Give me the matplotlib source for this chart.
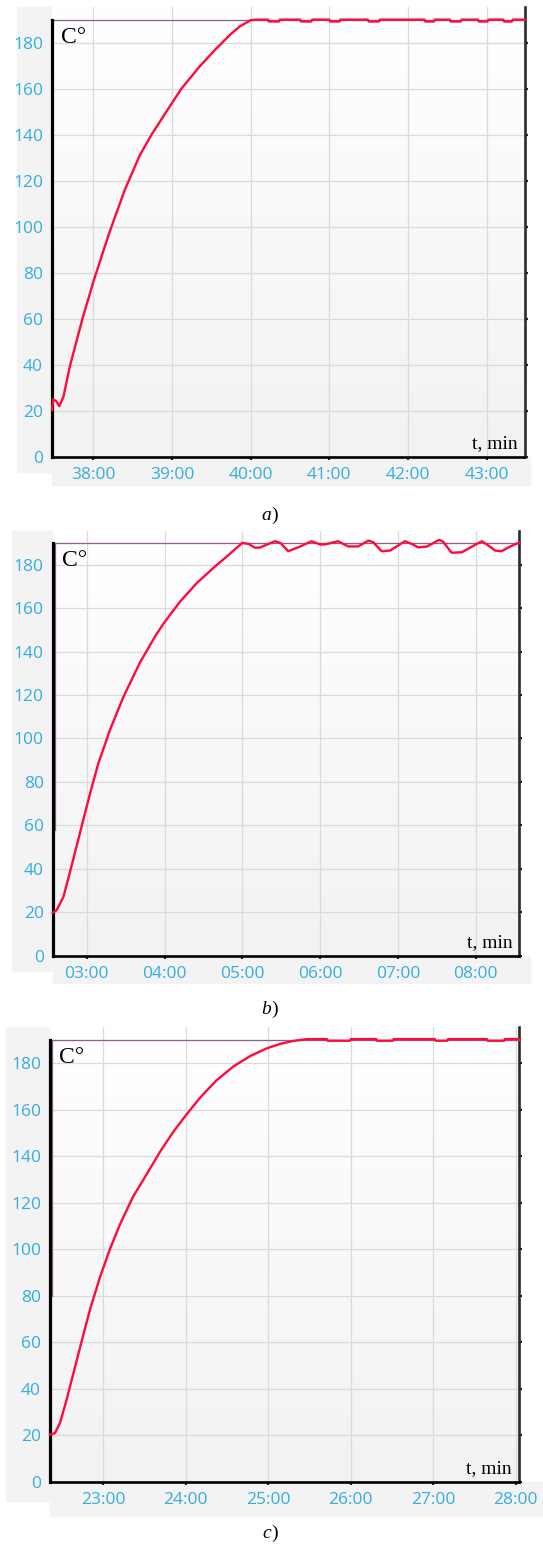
import numpy as np
import matplotlib.pyplot as plt
from matplotlib.patches import Rectangle
from matplotlib.colors import LinearSegmentedColormap

W, H, DPI = 543, 1544, 100

# ---- data (time in minutes, temperature in C) ----
a_time = [37.475, 37.49, 37.535, 37.568, 37.62, 37.70, 37.79, 37.87, 37.94, 38.0,
          38.2, 38.4, 38.59, 38.74, 38.9, 39.12, 39.35, 39.55, 39.74, 39.86, 40.0, 40.08,
          40.22, 40.23, 40.36, 40.37, 40.63, 40.64, 40.77, 40.78, 41.0, 41.01,
          41.13, 41.14, 41.49, 41.5, 41.63, 41.64, 42.21, 42.22, 42.33, 42.34,
          42.53, 42.54, 42.67, 42.68, 42.89, 42.9, 43.01, 43.02, 43.21, 43.22,
          43.32, 43.33, 43.48]
a_temp = [20.3, 25.0, 23.9, 22.0, 26.0, 39.0, 50.7, 60.9, 69.0, 76.0,
          97.0, 116.0, 131.0, 140.0, 148.5, 160.0, 169.6, 177.0, 183.5, 187.0, 189.8, 190.0,
          190.0, 189.2, 189.2, 190.0, 190.0, 189.2, 189.2, 190.0, 190.0, 189.2,
          189.2, 190.0, 190.0, 189.2, 189.2, 190.0, 190.0, 189.2, 189.2, 190.0,
          190.0, 189.2, 189.2, 190.0, 190.0, 189.2, 189.2, 190.0, 190.0, 189.2,
          189.2, 190.0, 190.0]

b_time = [2.563, 2.614, 2.70, 2.785, 2.871, 2.956, 3.042, 3.149, 3.30, 3.47, 3.685,
          3.90, 4.0, 4.2, 4.414, 4.628, 4.84, 5.0, 5.077, 5.163, 5.23, 5.30, 5.42,
          5.49, 5.59, 5.74, 5.89, 6.0, 6.06, 6.23, 6.36, 6.49, 6.62, 6.68, 6.79,
          6.90, 7.09, 7.18, 7.26, 7.37, 7.53, 7.58, 7.69, 7.82, 7.95, 8.08, 8.14,
          8.25, 8.33, 8.44, 8.56]
b_temp = [19.8, 21.0, 27.0, 38.5, 50.5, 62.5, 74.5, 88.5, 104.0, 119.0, 135.0,
          148.2, 153.5, 163.0, 171.5, 178.5, 185.0, 190.0, 189.6, 187.8, 187.9, 189.0, 190.8,
          190.0, 186.2, 188.3, 190.8, 189.3, 189.3, 190.8, 188.4, 188.4, 191.1, 190.4, 186.2,
          186.5, 190.8, 189.5, 188.0, 188.3, 191.4, 190.6, 185.5, 185.7, 188.3, 190.8, 189.4,
          186.5, 186.2, 188.3, 190.2]

c_time = [22.354, 22.415, 22.475, 22.556, 22.636, 22.738, 22.84, 22.96, 23.08, 23.20,
          23.36, 23.53, 23.69, 23.85, 24.0, 24.17, 24.37, 24.58, 24.78, 24.98, 25.15,
          25.30, 25.47, 25.71, 25.72, 25.99, 26.0, 26.31, 26.32, 26.51, 26.52,
          27.02, 27.03, 27.17, 27.18, 27.65, 27.66, 27.86, 27.87, 28.04]
c_temp = [20.4, 21.0, 25.4, 35.4, 46.5, 60.5, 74.2, 88.0, 100.0, 110.5,
          122.5, 132.5, 142.0, 150.5, 157.5, 165.0, 172.5, 178.6, 183.0, 186.3, 188.3,
          189.5, 190.3, 190.3, 189.6, 189.6, 190.3, 190.3, 189.6, 189.6, 190.3,
          190.3, 189.6, 189.6, 190.3, 190.3, 189.6, 189.6, 190.3, 190.3]

setpoint = 190
sp_low = [190, 58, 80]          # where the setpoint trace starts on the left edge
x_ticks = [[38, 39, 40, 41, 42, 43], [3, 4, 5, 6, 7, 8], [23, 24, 25, 26, 27, 28]]
x_labels = [["38:00", "39:00", "40:00", "41:00", "42:00", "43:00"],
            ["03:00", "04:00", "05:00", "06:00", "07:00", "08:00"],
            ["23:00", "24:00", "25:00", "26:00", "27:00", "28:00"]]
y_ticks = [0, 20, 40, 60, 80, 100, 120, 140, 160, 180]
captions = ["a", "b", "c"]

# ---- layout in pixels: left, right, top, bottom of the plot area ----
boxes = [(52, 524.5, 7, 456.7), (52.7, 519.3, 531, 955.7), (50, 519, 1027, 1482)]
strips = [(17, 485, 530), (12, 983, 530), (6, 1516, 543)]
xlims = [(37.475, 43.48), (2.563, 8.56), (22.354, 28.04)]
caption_y = [515, 1009, 1533]

RED = '#ff0a3a'
PURPLE = '#8a5e8e'
BLUE = '#35ade0'
GRID = '#dadada'
SERIF = ['Liberation Serif', 'DejaVu Serif']

fig = plt.figure(figsize=(W / DPI, H / DPI), dpi=DPI)
grad = LinearSegmentedColormap.from_list('bg', ['#ffffff', '#f2f2f2'])


def fx(px):
    return px / W


def fy(py):
    return 1 - py / H


datasets = [(a_time, a_temp), (b_time, b_temp), (c_time, c_temp)]

for i, (t, v) in enumerate(datasets):
    l, r, top, bot = boxes[i]
    sx, sb, sr = strips[i]
    # light grey bands behind the tick labels
    yb = bot + (sb - bot) * 0.55
    fig.add_artist(Rectangle((fx(sx), fy(yb)), fx(l - sx), fy(top) - fy(yb),
                             transform=fig.transFigure, color='#f3f3f3', zorder=0))
    fig.add_artist(Rectangle((fx(l), fy(sb)), fx(sr - l), fy(bot) - fy(sb),
                             transform=fig.transFigure, color='#f3f3f3', zorder=0))

    ax = fig.add_axes([fx(l), fy(bot), fx(r - l), fy(top) - fy(bot)])
    ax.set_facecolor('none')
    ax.imshow(np.linspace(0, 1, 256).reshape(-1, 1), cmap=grad, aspect='auto',
              extent=[0, 1, 0, 1], transform=ax.transAxes, zorder=0)

    ax.grid(True, color=GRID, lw=0.9, zorder=1)
    ax.set_axisbelow(True)

    t0 = xlims[i][0]
    # setpoint trace
    ax.plot([t0 + 0.03, t0 + 0.03, xlims[i][1]], [sp_low[i], setpoint, setpoint],
            color=PURPLE, lw=0.9, zorder=3, clip_on=False)
    # heater signal along the left edge
    ax.plot([t0, t0], [0, setpoint], color='black', lw=2.3, zorder=4, clip_on=False)
    # temperature
    ax.plot(t, v, color=RED, lw=1.7, zorder=5, clip_on=False)

    ax.set_xlim(*xlims[i])
    ax.set_ylim(0, 195.5)
    ax.set_xticks(x_ticks[i])
    ax.set_xticklabels(x_labels[i])
    ax.set_yticks(y_ticks)

    for s in ['top', 'left']:
        ax.spines[s].set_visible(False)
    ax.spines['bottom'].set_color('black')
    ax.spines['bottom'].set_linewidth(1.9)
    ax.spines['right'].set_color('#2b2b2b')
    ax.spines['right'].set_linewidth(1.9)

    ax.tick_params(axis='x', direction='out', length=2.5, width=1.6, color='#222222',
                   labelcolor=BLUE, labelsize=12.5, pad=5)
    ax.tick_params(axis='y', left=False, right=True, direction='out', length=2.5, width=1.6,
                   color='#222222', labelcolor=BLUE, labelsize=12.5, pad=4)
    for lab in ax.get_xticklabels() + ax.get_yticklabels():
        lab.set_fontfamily(['Open Sans', 'DejaVu Sans'])

    ax.annotate("C\u00b0", xy=(0, setpoint), xycoords=('axes fraction', 'data'),
                xytext=(9, -7), textcoords='offset pixels', ha='left', va='top',
                fontsize=17, family=SERIF, color='black')
    ax.annotate("t, min", xy=(1, 0), xycoords='axes fraction',
                xytext=(-7, 9), textcoords='offset pixels', ha='right', va='baseline',
                fontsize=14, family=SERIF, color='black')

    fig.text(fx(271), fy(caption_y[i]), captions[i], ha='right', va='center',
             fontsize=14, family=SERIF, style='italic')
    fig.text(fx(271), fy(caption_y[i]), ")", ha='left', va='center',
             fontsize=14, family=SERIF)

fig.savefig("out.png", dpi=DPI)
